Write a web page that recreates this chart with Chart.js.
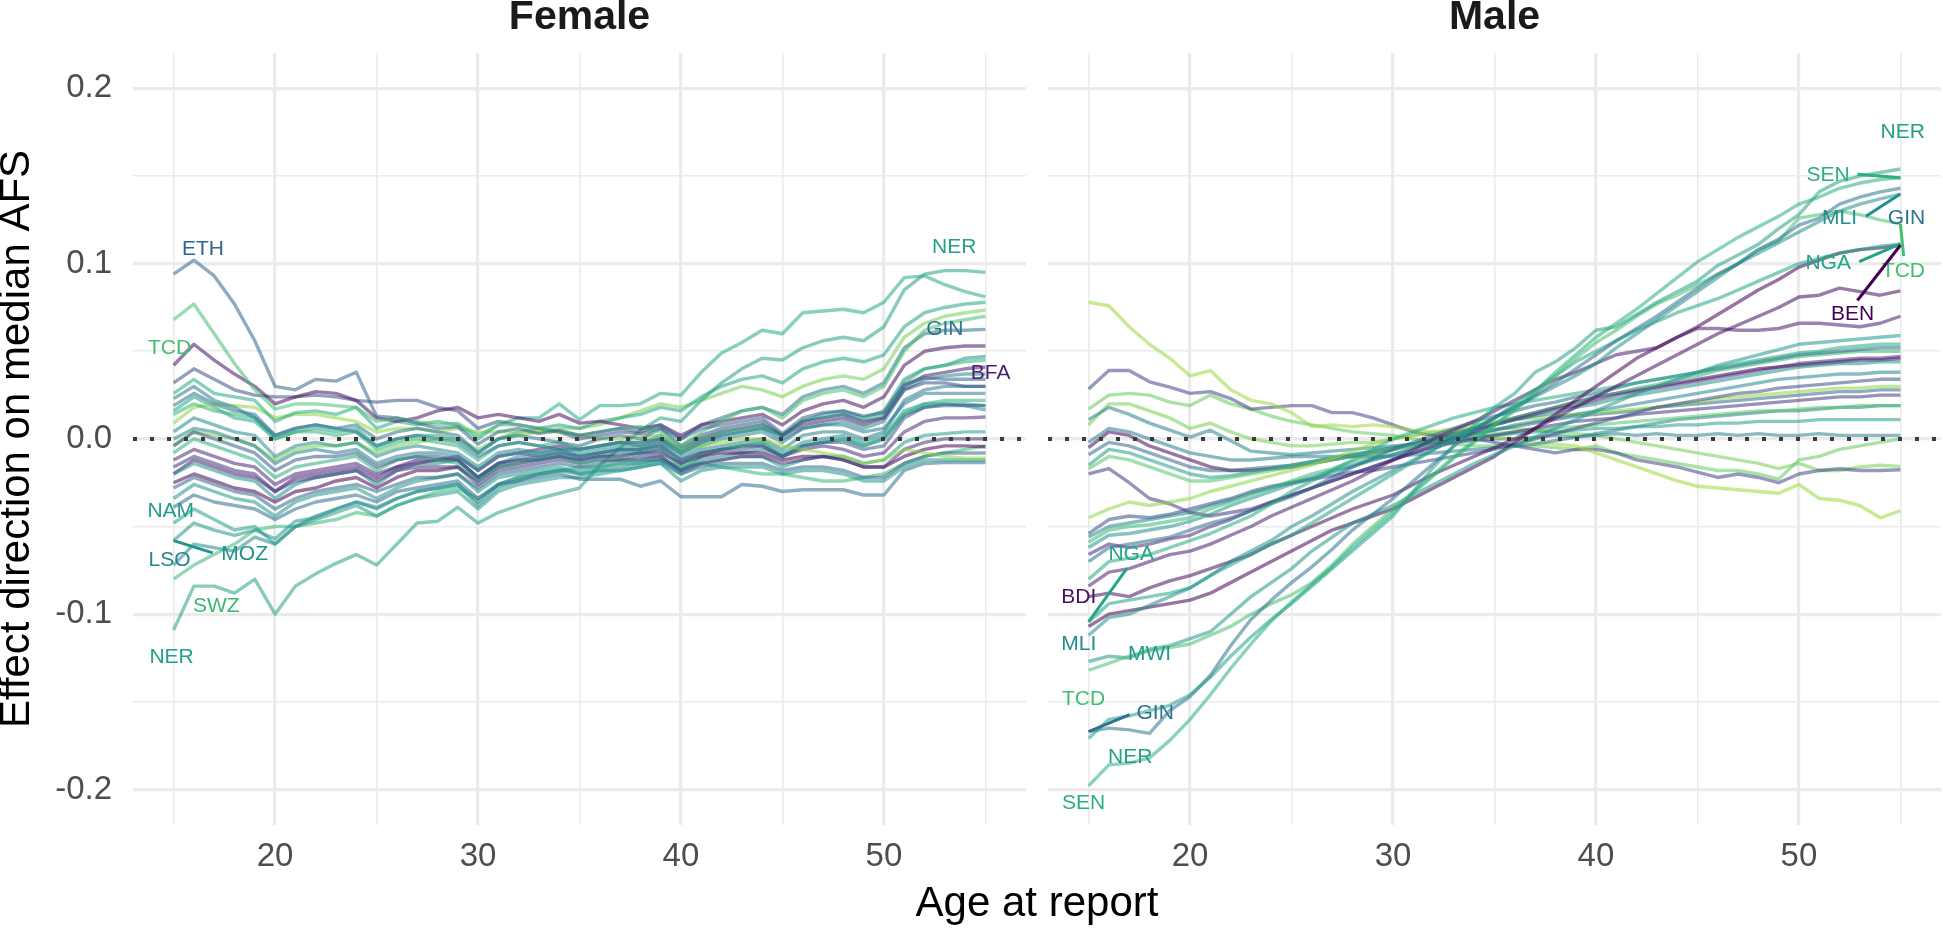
<!DOCTYPE html>
<html><head><meta charset="utf-8">
<script src="https://cdn.jsdelivr.net/npm/chart.js@4.4.1/dist/chart.umd.min.js"></script>
<style>
html,body{margin:0;padding:0;background:#fff;width:1943px;height:930px;overflow:hidden;}
#c1{position:absolute;left:0;top:0;}
#c2{position:absolute;left:1040px;top:0;}
#xt{position:absolute;left:737px;width:600px;top:881px;text-align:center;font-family:"Liberation Sans",Arial,sans-serif;font-size:42px;line-height:42px;color:#000;white-space:nowrap;}
</style></head><body>
<canvas id="c1" width="1030" height="930"></canvas>
<canvas id="c2" width="903" height="930"></canvas>
<div id="xt">Age at report</div>
<script>
// ---------- axis / category data ----------
const AGES = [15,16,17,18,19,20,21,22,23,24,25,26,27,28,29,30,31,32,33,34,35,36,37,38,39,40,41,42,43,44,45,46,47,48,49,50,51,52,53,54,55];
const X_MIN = 13, X_MAX = 57;
const Y_MIN = -0.2203, Y_MAX = 0.2202;
const X_TICKS = [15,20,25,30,35,40,45,50,55];
const X_TICK_LABELS = ['','20','','30','','40','','50',''];
const Y_TICKS = [-0.2,-0.15,-0.1,-0.05,0,0.05,0.1,0.15,0.2];
const Y_TICK_LABELS = ['-0.2','','-0.1','','0.0','','0.1','','0.2'];
const PANEL_NAMES = ['Female','Male'];
const Y_TITLE = 'Effect direction on median AFS';

// ---------- Female series (ages 15..55) ----------
const F_ETH = [.094,.102,.093,.077,.056, .030,.028,.034,.033,.038, .013,.012,.009,.006,.007, -.003,.004,.006,.003,.005, .002,.004,.006,.004,.008, .000,.006,.008,.010,.012, .003,.012,.015,.016,.013, .015,.031,.035,.034,.034, .034];
const F_TCD = [.068,.077,.060,.043,.028, .017,.020,.020,.019,.018, .010,.012,.010,.008,.009, .002,.008,.008,.006,.004, .002,.004,.006,.007,.004, -.004,.004,.010,.016,.018, .012,.022,.026,.028,.024, .030,.050,.062,.066,.068, .070];
const F_BDI = [.042,.054,.045,.037,.030, .020,.024,.027,.026,.022, .012,.010,.012,.016,.018, .012,.014,.012,.010,.014, .009,.010,.008,.006,.008, .002,.008,.010,.012,.014, .008,.016,.020,.022,.018, .024,.042,.050,.052,.053, .053];
const F_COD = [.032,.040,.034,.028,.025, .024,.024,.025,.024,.022, .021,.022,.022,.018,.016, .006,.010,.008,.006,.004, .000,.002,.004,.003,.006, -.004,.002,.006,.008,.010, .002,.010,.012,.014,.010, .012,.028,.032,.032,.030, .030];
const F_RWA = [.026,.034,.026,.024,.022, .010,.015,.016,.014,.018, .006,.010,.008,.010,.008, .000,.008,.012,.012,.020, .011,.019,.019,.020,.026, .025,.038,.049,.055,.062, .060,.072,.073,.074,.072, .078,.092,.093,.088,.084, .081];
const F_GMB = [.023,.030,.022,.018,.012, .002,.006,.008,.006,.004, -.004,.000,.002,.000,-.002, -.010,-.004,-.002,-.004,-.006, -.006,-.004,-.002,-.004,.000, -.008,-.002,.002,.004,.006, .000,.006,.008,.008,.004, .006,.020,.026,.026,.026, .026];
const F_GIN = [.019,.026,.020,.016,.014, .002,.006,.008,.006,.008, .000,.004,.006,.004,.002, -.008,.000,.002,.000,-.002, -.004,.000,.002,.000,.006, .000,.008,.012,.016,.018, .014,.024,.028,.030,.026, .032,.052,.060,.062,.062, .0625];
const F_SLE = [.014,.020,.016,.014,.012, .000,.004,.004,.002,.004, -.006,-.002,.000,-.002,-.004, -.012,-.004,-.002,-.004,-.002, -.006,-.004,-.002,-.002,.002, -.006,.000,.004,.006,.008, .002,.010,.012,.014,.010, .014,.032,.040,.042,.044, .045];
const F_ZMB = [.009,.018,.020,.019,.018, .012,.014,.014,.012,.010, .004,.006,.006,.004,.006, .004,.004,.004,.004,.004, .002,.000,.000,.002,.002, -.006,-.004,-.002,.000,.000, -.004,-.006,-.008,-.010,-.014, -.012,-.006,-.008,-.010,-.011, -.011];
const F_MDG = [.004,.012,.008,.004,.002, -.010,-.004,-.002,-.004,-.002, -.010,-.006,-.004,-.006,-.008, -.016,-.008,-.006,-.008,-.006, -.010,-.008,-.006,-.006,-.002, -.010,-.004,.000,.002,.004, -.002,.006,.008,.010,.006, .010,.028,.034,.036,.037, .037];
const F_KEN = [.000,.006,.004,.000,-.004, -.014,-.008,-.006,-.008,-.006, -.014,-.010,-.008,-.008,-.010, -.018,-.010,-.008,-.010,-.008, -.010,-.008,-.006,-.006,-.004, -.012,-.006,-.004,-.002,.000, -.006,.002,.004,.004,.000, .004,.022,.028,.030,.030, .030];
const F_COG = [-.004,.004,.000,-.004,-.008, -.018,-.012,-.010,-.010,-.008, -.016,-.012,-.010,-.010,-.012, -.022,-.014,-.012,-.012,-.010, -.012,-.010,-.008,-.008,-.006, -.014,-.008,-.006,-.006,-.004, -.010,-.004,-.002,-.002,-.006, -.004,.012,.018,.019,.019, .019];
const F_SEN = [-.008,.000,-.004,-.008,-.012, -.022,-.016,-.014,-.012,-.010, -.018,-.012,-.010,-.012,-.014, -.024,-.016,-.014,-.012,-.010, -.014,-.012,-.010,-.008,-.006, -.016,-.008,-.006,-.004,-.002, -.010,-.004,-.002,.000,-.004, .000,.014,.020,.022,.022, .022];
const F_CAF = [-.012,-.006,-.010,-.014,-.016, -.026,-.020,-.018,-.016,-.014, -.020,-.016,-.014,-.012,-.012, -.022,-.014,-.012,-.010,-.008, -.010,-.008,-.006,-.006,-.004, -.012,-.008,-.006,-.004,-.004, -.010,-.006,-.004,-.006,-.010, -.008,.004,.010,.012,.012, .0125];
const F_CIV = [-.016,-.010,-.014,-.018,-.020, -.030,-.024,-.022,-.020,-.018, -.024,-.018,-.016,-.016,-.016, -.026,-.018,-.016,-.014,-.012, -.014,-.012,-.012,-.010,-.010, -.018,-.014,-.012,-.010,-.010, -.014,-.012,-.010,-.012,-.016, -.016,-.006,-.002,.000,.000, .000];
const F_MLI = [-.020,-.014,-.018,-.022,-.024, -.034,-.026,-.022,-.020,-.018, -.026,-.018,-.014,-.014,-.012, -.022,-.014,-.010,-.008,-.006, -.008,-.006,-.004,-.004,-.002, -.008,-.002,.002,.004,.006, .002,.010,.014,.016,.012, .016,.034,.040,.042,.046, .047];
const F_BEN = [-.025,-.020,-.024,-.028,-.030, -.036,-.030,-.028,-.024,-.022, -.028,-.022,-.018,-.018,-.016, -.024,-.016,-.014,-.012,-.010, -.012,-.010,-.010,-.008,-.008, -.014,-.010,-.008,-.008,-.008, -.012,-.010,-.010,-.012,-.016, -.016,-.010,-.006,-.004,-.004, -.0045];
const F_GAB = [-.028,-.022,-.026,-.030,-.032, -.040,-.034,-.030,-.028,-.026, -.030,-.026,-.022,-.022,-.020, -.028,-.020,-.018,-.016,-.014, -.016,-.014,-.012,-.012,-.012, -.020,-.016,-.014,-.014,-.014, -.018,-.016,-.016,-.018,-.022, -.022,-.014,-.010,-.008,-.008, -.008];
const F_MWI = [-.034,-.026,-.030,-.034,-.036, -.044,-.036,-.032,-.030,-.028, -.034,-.028,-.024,-.022,-.020, -.030,-.022,-.020,-.018,-.016, -.020,-.018,-.018,-.016,-.014, -.024,-.018,-.016,-.016,-.016, -.020,-.018,-.018,-.020,-.024, -.024,-.016,-.012,-.012,-.012, -.012];
const F_GHA = [-.039,-.032,-.036,-.038,-.040, -.046,-.040,-.036,-.034,-.032, -.036,-.030,-.028,-.026,-.024, -.034,-.026,-.024,-.022,-.020, -.023,-.023,-.023,-.027,-.024, -.033,-.033,-.033,-.026,-.027, -.030,-.029,-.029,-.029,-.032, -.032,-.018,-.014,-.0135,-.0135, -.0135];
const F_NAM = [-.048,-.040,-.046,-.052,-.050, -.060,-.050,-.046,-.042,-.038, -.044,-.038,-.034,-.032,-.030, -.040,-.030,-.026,-.024,-.022, -.022,-.020,-.018,-.016,-.014, -.020,-.014,-.012,-.010,-.010, -.016,-.012,-.010,-.010,-.014, -.012,-.002,.002,.003,.004, .004];
const F_MOZ = [-.058,-.048,-.052,-.055,-.052, -.057,-.047,-.045,-.040,-.036, -.039,-.034,-.030,-.028,-.026, -.038,-.028,-.024,-.020,-.018, -.018,-.016,-.014,-.012,-.010, -.018,-.010,-.006,-.004,-.002, -.008,-.002,.000,.002,-.002, .002,.016,.020,.020,.019, .0165];
const F_LSO = [-.072,-.060,-.062,-.064,-.056, -.060,-.050,-.044,-.040,-.036, -.040,-.034,-.030,-.028,-.026, -.036,-.026,-.022,-.020,-.018, -.020,-.018,-.016,-.014,-.012, -.018,-.012,-.010,-.008,-.006, -.010,-.004,-.002,.000,-.004, .000,.014,.018,.020,.020, .019];
const F_SWZ = [-.080,-.072,-.066,-.060,-.052, -.050,-.050,-.048,-.046,-.042, -.044,-.038,-.034,-.030,-.028, -.034,-.026,-.022,-.020,-.018, -.016,-.016,-.014,-.014,-.012, -.016,-.014,-.016,-.018,-.020, -.020,-.022,-.024,-.024,-.022, -.020,-.014,-.010,-.008,-.006, -.004];
const F_NER = [-.109,-.084,-.084,-.088,-.080, -.100,-.084,-.077,-.071,-.066, -.072,-.060,-.048,-.047,-.039, -.048,-.042,-.038,-.034,-.031, -.028,-.015,-.005,.005,.012, .010,.022,.032,.040,.046, .045,.052,.056,.058,.056, .064,.085,.094,.096,.096, .095];
const F_BFA = [-.020,-.012,-.016,-.020,-.022, -.030,-.022,-.020,-.018,-.016, -.022,-.016,-.012,-.012,-.010, -.018,-.010,-.008,-.006,-.004, -.006,-.004,-.002,-.002,.000, -.006,.000,.004,.006,.008, .002,.008,.010,.012,.008, .012,.030,.036,.038,.040, .041];
const F_NGA = [.016,.024,.018,.012,.010, .000,.004,.006,.004,.006, -.004,.000,.002,.002,.000, -.008,.000,.004,.006,.008, .006,.010,.012,.014,.018, .016,.024,.030,.034,.036, .032,.040,.044,.046,.044, .048,.064,.072,.075,.077, .078];
const F_UGA = [-.004,.004,.002,.000,-.004, -.012,-.006,-.004,-.004,-.002, -.008,-.004,-.002,.000,.000, -.006,.000,.002,.004,.006, .006,.008,.012,.016,.020, .018,.022,.026,.030,.028, .024,.030,.034,.036,.034, .040,.058,.066,.070,.072, .0735];

// ---------- Male series (ages 15..55) ----------
const M_SEN = [-.198,-.186,-.185,-.182,-.172, -.160,-.146,-.131,-.117,-.104, -.093,-.083,-.073,-.062,-.052, -.042,-.031,-.021,-.011,-.002, .008,.017,.027,.038,.048, .058,.066,.074,.083,.092, .101,.108,.115,.121,.127, .134,.138,.143,.146,.148, .149];
const M_NER = [-.171,-.160,-.158,-.155,-.152, -.146,-.136,-.124,-.113,-.103, -.094,-.084,-.074,-.064,-.054, -.044,-.030,-.016,-.004,.008, .018,.026,.038,.044,.052, .062,.064,.071,.078,.084, .090,.099,.105,.111,.120, .128,.141,.147,.150,.152, .154];
const M_GIN = [-.167,-.165,-.166,-.168,-.155, -.147,-.135,-.118,-.103,-.092, -.082,-.073,-.063,-.052,-.043, -.034,-.024,-.014,-.004,.005, .012,.018,.025,.032,.040, .048,.056,.063,.070,.078, .086,.094,.100,.108,.114, .122,.126,.134,.138,.141, .143];
const M_MLI = [-.112,-.102,-.100,-.095,-.090, -.085,-.078,-.070,-.064,-.058, -.050,-.044,-.037,-.030,-.024, -.018,-.012,-.006,.000,.006, .012,.018,.024,.030,.036, .043,.052,.060,.068,.076, .084,.092,.100,.106,.112, .118,.124,.130,.134,.137, .1397];
const M_TCD = [-.132,-.128,-.124,-.121,-.119, -.117,-.112,-.107,-.100,-.094, -.089,-.082,-.072,-.060,-.050, -.040,-.030,-.020,-.010,-.001, .008,.016,.026,.036,.046, .055,.062,.070,.077,.082, .088,.094,.100,.108,.113, .126,.128,.130,.128,.125, .1227];
const M_MWI = [-.127,-.124,-.125,-.120,-.118, -.114,-.110,-.100,-.090,-.082, -.074,-.064,-.056,-.048,-.043, -.038,-.032,-.026,-.020,-.014, -.009,-.004,.001,.006,.011, .016,.021,.026,.030,.034, .038,.042,.045,.048,.051, .054,.055,.056,.057,.058, .059];
const M_NGA = [-.1044,-.094,-.092,-.090,-.088, -.085,-.078,-.072,-.066,-.060, -.055,-.048,-.041,-.034,-.027, -.020,-.013,-.006,.000,.006, .012,.020,.028,.036,.044, .050,.056,.062,.067,.072, .076,.080,.085,.090,.095, .100,.103,.106,.108,.110, .1113];
const M_BEN = [-.107,-.100,-.098,-.096,-.094, -.092,-.088,-.082,-.076,-.070, -.064,-.058,-.052,-.048,-.044, -.040,-.034,-.028,-.022,-.016, -.010,-.002,.006,.014,.022, .030,.038,.046,.052,.058, .064,.071,.078,.085,.091, .098,.102,.106,.108,.109, .1105];
const M_BDI = [-.090,-.088,-.090,-.085,-.081, -.078,-.074,-.070,-.066,-.060, -.055,-.050,-.045,-.040,-.036, -.032,-.026,-.020,-.015,-.010, -.005,.000,.006,.012,.018, .024,.030,.036,.042,.048, .054,.060,.065,.070,.075, .081,.082,.086,.084,.082, .0845];
const M_BFA = [-.084,-.076,-.074,-.070,-.066, -.064,-.060,-.055,-.050,-.044, -.039,-.034,-.029,-.024,-.018, -.012,-.006,.000,.005,.010, .016,.022,.028,.034,.038, .043,.048,.050,.052,.058, .063,.063,.062,.062,.063, .066,.066,.065,.064,.066, .070];
const M_RWA = [-.080,-.070,-.068,-.066,-.062, -.058,-.054,-.049,-.044,-.037, -.030,-.024,-.018,-.012,-.006, .000,.004,.008,.012,.015, .018,.020,.022,.024,.026, .028,.030,.032,.034,.036, .038,.041,.043,.045,.047, .049,.050,.052,.053,.054, .054];
const M_GHA = [-.070,-.062,-.060,-.058,-.056, -.052,-.048,-.045,-.041,-.037, -.033,-.028,-.022,-.016,-.011, -.006,-.002,.002,.006,.010, .013,.016,.019,.021,.024, .026,.029,.032,.034,.036, .038,.040,.042,.044,.046, .048,.049,.050,.051,.052, .052];
const M_CAF = [-.066,-.060,-.062,-.060,-.057, -.055,-.050,-.046,-.041,-.036, -.032,-.028,-.024,-.020,-.016, -.012,-.008,-.004,.000,.004, .008,.011,.014,.017,.019, .022,.025,.027,.029,.031, .033,.035,.037,.039,.041, .043,.044,.045,.046,.046, .047];
const M_MOZ = [-.062,-.055,-.054,-.052,-.050, -.047,-.043,-.038,-.034,-.030, -.026,-.023,-.019,-.016,-.012, -.009,-.005,-.002,.002,.005, .008,.011,.013,.015,.018, .020,.023,.025,.027,.029, .031,.033,.035,.037,.039, .041,.042,.043,.043,.044, .044];
const M_SWZ = [-.059,-.052,-.050,-.049,-.047, -.045,-.040,-.036,-.032,-.028, -.024,-.020,-.017,-.013,-.010, -.006,-.003,.000,.003,.006, .009,.012,.015,.018,.021, .024,.026,.029,.031,.034, .036,.039,.041,.043,.045, .047,.048,.049,.050,.050, .050];
const M_LSO = [-.056,-.050,-.048,-.046,-.044, -.042,-.038,-.035,-.031,-.028, -.025,-.022,-.018,-.015,-.012, -.009,-.006,-.003,.000,.003, .005,.008,.010,.012,.014, .016,.018,.020,.022,.024, .026,.028,.030,.032,.034, .035,.036,.037,.037,.038, .038];
const M_COD = [-.054,-.046,-.044,-.045,-.043, -.040,-.037,-.034,-.030,-.027, -.025,-.023,-.021,-.019,-.018, -.016,-.014,-.012,-.010,-.008, -.006,-.003,.000,.003,.006, .009,.012,.015,.018,.020, .022,.024,.026,.027,.029, .030,.031,.032,.033,.034, .034];
const M_ZMB = [-.045,-.040,-.036,-.038,-.036, -.034,-.030,-.027,-.024,-.021, -.018,-.015,-.011,-.007,-.003, .000,.002,.004,.006,.008, .010,.011,.012,.013,.014, .015,.016,.017,.018,.020, .021,.023,.024,.025,.026, .027,.028,.029,.029,.030, .030];
const M_CIV = [-.020,-.017,-.025,-.034,-.037, -.042,-.044,-.042,-.040,-.036, -.032,-.028,-.024,-.020,-.016, -.012,-.008,-.005,-.002,.000, .002,.004,.006,.008,.010, .011,.012,.014,.015,.016, .017,.018,.019,.020,.021, .022,.023,.024,.024,.025, .025];
const M_TGO = [-.017,-.010,-.012,-.016,-.020, -.024,-.024,-.022,-.020,-.018, -.016,-.014,-.012,-.010,-.008, -.006,-.004,-.002,.000,.002, .003,.004,.005,.006,.007, .008,.009,.010,.011,.012, .013,.014,.015,.016,.016, .017,.018,.018,.019,.019, .019];
const M_NAM = [-.015,-.006,-.008,-.012,-.016, -.020,-.022,-.021,-.019,-.017, -.015,-.013,-.011,-.009,-.007, -.005,-.003,-.002,.000,.001, .002,.003,.004,.004,.005, .006,.006,.007,.007,.008, .008,.009,.009,.010,.010, .010,.011,.011,.011,.011, .011];
const M_GAB = [-.009,-.002,-.004,-.008,-.012, -.016,-.018,-.018,-.017,-.016, -.015,-.013,-.011,-.009,-.007, -.005,-.003,-.001,.001,.003, .005,.007,.009,.011,.013, .014,.015,.016,.018,.019, .020,.021,.022,.023,.024, .025,.026,.027,.027,.028, .028];
const M_AGO = [-.005,.004,.002,-.004,-.008, -.012,-.016,-.018,-.018,-.017, -.016,-.014,-.012,-.010,-.008, -.006,-.003,.000,.003,.006, .009,.012,.015,.018,.021, .024,.026,.028,.030,.032, .034,.036,.038,.040,.041, .042,.043,.044,.045,.045, .046];
const M_KEN = [-.002,.006,.004,.000,-.004, -.008,-.010,-.012,-.012,-.011, -.010,-.010,-.010,-.010,-.010, -.010,-.009,-.008,-.007,-.006, -.005,-.004,-.003,-.001,.001, .003,.005,.007,.009,.011, .012,.013,.014,.015,.016, .016,.017,.018,.018,.019, .019];
const M_ZWE = [.078,.076,.064,.054,.046, .036,.039,.028,.022,.020, .015,.007,.008,.007,.008, .007,.005,.004,.003,.002, .001,.000,-.002,-.003,-.004, -.008,-.012,-.016,-.020,-.024, -.027,-.028,-.029,-.030,-.031, -.026,-.034,-.035,-.038,-.045, -.041];
const M_CMR = [.0285,.039,.039,.0326,.0295, .026,.027,.023,.017,.018, .019,.019,.015,.015,.012, .008,.004,.002,.001,.000, -.002,-.004,-.006,-.008,-.006, -.006,-.008,-.012,-.014,-.016, -.019,-.022,-.020,-.022,-.025, -.020,-.018,-.017,-.018,-.018, -.0176];
const M_TZA = [.017,.025,.026,.025,.021, .019,.025,.020,.017,.013, .010,.008,.006,.004,.003, .002,.000,-.002,-.003,-.004, -.004,-.004,-.004,-.005,-.006, -.004,-.008,-.010,-.012,-.014, -.016,-.018,-.018,-.020,-.023, -.012,-.010,-.006,-.004,-.002, .000];
const M_LBR = [.011,.018,.014,.009,.005, .001,.005,-.001,-.007,-.008, -.009,-.008,-.007,-.006,-.005, -.004,-.003,-.002,-.002,-.001, .000,.000,.001,.002,.001, .002,.003,.002,.003,.002, .002,.003,.002,.003,.002, .002,.003,.002,.002,.002, .002];
const M_UGA = [.008,.020,.020,.016,.012, .006,.009,.004,.000,-.002, -.004,-.004,-.003,-.002,-.002, .000,.002,.003,.005,.006, .006,.006,.005,.004,.003, .002,.000,-.002,-.004,-.006, -.008,-.010,-.012,-.014,-.017, -.014,-.018,-.018,-.016,-.015, -.0157];

const FEMALE = {ETH:F_ETH, TCD:F_TCD, BDI:F_BDI, COD:F_COD, RWA:F_RWA, GMB:F_GMB, GIN:F_GIN, SLE:F_SLE, ZMB:F_ZMB, MDG:F_MDG, KEN:F_KEN, COG:F_COG, SEN:F_SEN, CAF:F_CAF, CIV:F_CIV, MLI:F_MLI, BEN:F_BEN, GAB:F_GAB, MWI:F_MWI, GHA:F_GHA, NAM:F_NAM, MOZ:F_MOZ, LSO:F_LSO, SWZ:F_SWZ, NER:F_NER, BFA:F_BFA, NGA:F_NGA, UGA:F_UGA};
const MALE = {SEN:M_SEN, NER:M_NER, GIN:M_GIN, MLI:M_MLI, TCD:M_TCD, MWI:M_MWI, NGA:M_NGA, BEN:M_BEN, BDI:M_BDI, BFA:M_BFA, RWA:M_RWA, GHA:M_GHA, CAF:M_CAF, MOZ:M_MOZ, SWZ:M_SWZ, LSO:M_LSO, COD:M_COD, ZMB:M_ZMB, CIV:M_CIV, TGO:M_TGO, NAM:M_NAM, GAB:M_GAB, AGO:M_AGO, KEN:M_KEN, ZWE:M_ZWE, CMR:M_CMR, TZA:M_TZA, LBR:M_LBR, UGA:M_UGA};

// ---------- labels (text anchor in data units; optional leader from series point at age `from`) ----------
const F_LABELS = [
  {code:'ETH', x:16.45, y:0.108},
  {code:'TCD', x:14.8, y:0.052},
  {code:'NAM', x:14.86, y:-0.041},
  {code:'LSO', x:14.8, y:-0.069},
  {code:'MOZ', x:18.5, y:-0.066, from:15, to:[16.93,-0.065]},
  {code:'SWZ', x:17.1, y:-0.0956},
  {code:'NER', x:14.9, y:-0.1245},
  {code:'NER', x:53.46, y:0.1096},
  {code:'GIN', x:53.0, y:0.0625},
  {code:'BFA', x:55.26, y:0.0374}
];
const M_LABELS = [
  {code:'NER', x:55.11, y:0.175},
  {code:'SEN', x:51.44, y:0.1507, from:55, to:[52.88,0.151]},
  {code:'MLI', x:52.0, y:0.1257, from:55, to:[53.3,0.127]},
  {code:'GIN', x:55.3, y:0.1257},
  {code:'NGA', x:51.44, y:0.100, from:55, to:[52.97,0.1011]},
  {code:'TCD', x:55.15, y:0.0958, from:55, to:[55.16,0.1043]},
  {code:'BEN', x:52.64, y:0.0713, from:55, to:[52.88,0.079]},
  {code:'NGA', x:17.1, y:-0.0657, from:15, to:[16.89,-0.0739]},
  {code:'BDI', x:14.52, y:-0.0906},
  {code:'MLI', x:14.52, y:-0.117},
  {code:'MWI', x:18.0, y:-0.123},
  {code:'TCD', x:14.75, y:-0.1486},
  {code:'GIN', x:18.28, y:-0.1567, from:15, to:[17.02,-0.1573]},
  {code:'NER', x:17.05, y:-0.1817},
  {code:'SEN', x:14.75, y:-0.2076}
];

// ---------- styling ----------
const FONT = '"Liberation Sans", Arial, Helvetica, sans-serif';
const VIRIDIS = ['#440154','#482475','#414487','#355f8d','#2a788e','#21918c','#22a884','#44bf70','#7ad151','#bddf26','#fde725'];
const COLOR_POS = {BEN:0.00, AGO:0.02, BDI:0.04, BFA:0.08, CAF:0.12, CIV:0.16, CMR:0.20, COD:0.24, COG:0.28, ETH:0.32, GAB:0.34, GHA:0.36, GIN:0.38, GMB:0.40, KEN:0.42, LBR:0.44, LSO:0.46, MDG:0.47, MLI:0.49, MOZ:0.51, MWI:0.53, NAM:0.55, NER:0.57, NGA:0.59, RWA:0.61, SEN:0.63, SLE:0.65, SWZ:0.67, TCD:0.70, TGO:0.73, TZA:0.76, UGA:0.79, ZAF:0.81, ZMB:0.83, ZWE:0.85};
function hexRgb(h){return [parseInt(h.slice(1,3),16),parseInt(h.slice(3,5),16),parseInt(h.slice(5,7),16)];}
function colorOf(code, alpha){
  const t = COLOR_POS[code] ?? 0.5;
  const s = t*10, i = Math.min(9, Math.floor(s)), f = s - i;
  const a = hexRgb(VIRIDIS[i]), b = hexRgb(VIRIDIS[i+1]);
  const c = a.map((v,k)=>Math.round(v+(b[k]-v)*f));
  return `rgba(${c[0]},${c[1]},${c[2]},${alpha})`;
}
Chart.defaults.font.family = FONT;

function isMajorX(v){ return Math.abs(v % 10) < 1e-9; }
function isMajorY(v){ return Math.abs(Math.round(v*10) - v*10) < 1e-6; }

function makePanel(canvasId, seriesMap, labels, name, showY, leftW, rightPad){
  const datasets = [{
    label:'zero', data:[{x:X_MIN,y:0},{x:X_MAX,y:0}],
    borderColor:'#3a3a3a', borderWidth:4, borderDash:[4,13], pointRadius:0, fill:false
  }];
  for (const code of Object.keys(seriesMap)) {
    const arr = seriesMap[code];
    datasets.push({
      label: code,
      data: AGES.map((a,i)=>({x:a, y:arr[i]})),
      borderColor: colorOf(code, 0.55),
      borderWidth: 3.4, pointRadius: 0, fill:false, tension:0,
      borderJoinStyle:'round'
    });
  }
  const labelPlugin = {
    id:'countryLabels',
    afterDatasetsDraw(chart){
      const {ctx, scales:{x, y}} = chart;
      ctx.save();
      ctx.font = '21px ' + FONT;
      ctx.textAlign = 'center'; ctx.textBaseline = 'middle';
      for (const L of labels) {
        const col = colorOf(L.code, 1);
        if (L.from !== undefined) {
          const v = seriesMap[L.code][AGES.indexOf(L.from)];
          ctx.strokeStyle = col; ctx.lineWidth = 3; ctx.lineCap = 'butt';
          ctx.beginPath();
          ctx.moveTo(x.getPixelForValue(L.from), y.getPixelForValue(v));
          ctx.lineTo(x.getPixelForValue(L.to[0]), y.getPixelForValue(L.to[1]));
          ctx.stroke();
        }
        ctx.fillStyle = col;
        ctx.fillText(L.code, x.getPixelForValue(L.x), y.getPixelForValue(L.y));
      }
      ctx.restore();
    }
  };
  return new Chart(document.getElementById(canvasId), {
    type:'line',
    data:{datasets},
    plugins:[labelPlugin],
    options:{
      responsive:false, animation:false, devicePixelRatio:1,
      layout:{padding:{left:0, right:rightPad, top:0, bottom:0}},
      plugins:{
        legend:{display:false}, tooltip:{enabled:false},
        title:{display:true, text:name, fullSize:false, align:'center', color:'#1a1a1a',
               font:{size:41, weight:'bold', lineHeight:0.878}, padding:{top:0, bottom:17}}
      },
      scales:{
        x:{
          type:'linear', min:X_MIN, max:X_MAX,
          afterBuildTicks: s => { s.ticks = X_TICKS.map(v=>({value:v})); },
          afterFit: s => { s.height = 105; },
          ticks:{padding:12, color:'#4d4d4d', font:{size:33}, maxRotation:0, autoSkip:false,
                 callback: v => { const i = X_TICKS.indexOf(v); return i >= 0 ? X_TICK_LABELS[i] : ''; }},
          grid:{color:'#ebebeb', drawTicks:false, lineWidth: c => (c.tick && isMajorX(c.tick.value)) ? 3.2 : 1.6},
          border:{display:false}
        },
        y:{
          type:'linear', min:Y_MIN, max:Y_MAX,
          afterBuildTicks: s => { s.ticks = Y_TICKS.map(v=>({value:v})); },
          afterFit: s => { s.width = leftW; },
          ticks:{display:showY, padding:21, color:'#4d4d4d', font:{size:33}, autoSkip:false,
                 callback: v => { const i = Y_TICKS.findIndex(t=>Math.abs(t-v)<1e-9); return i >= 0 ? Y_TICK_LABELS[i] : ''; }},
          grid:{color:'#ebebeb', drawTicks:false, lineWidth: c => (c.tick && isMajorY(c.tick.value)) ? 3.2 : 1.6},
          border:{display:false},
          title:{display:showY, text:Y_TITLE, color:'#000', font:{size:42, lineHeight:0.85}, padding:0}
        }
      }
    }
  });
}

makePanel('c1', FEMALE, F_LABELS, PANEL_NAMES[0], true, 133, 4);
makePanel('c2', MALE, M_LABELS, PANEL_NAMES[1], false, 8, 2);
</script>
</body></html>
